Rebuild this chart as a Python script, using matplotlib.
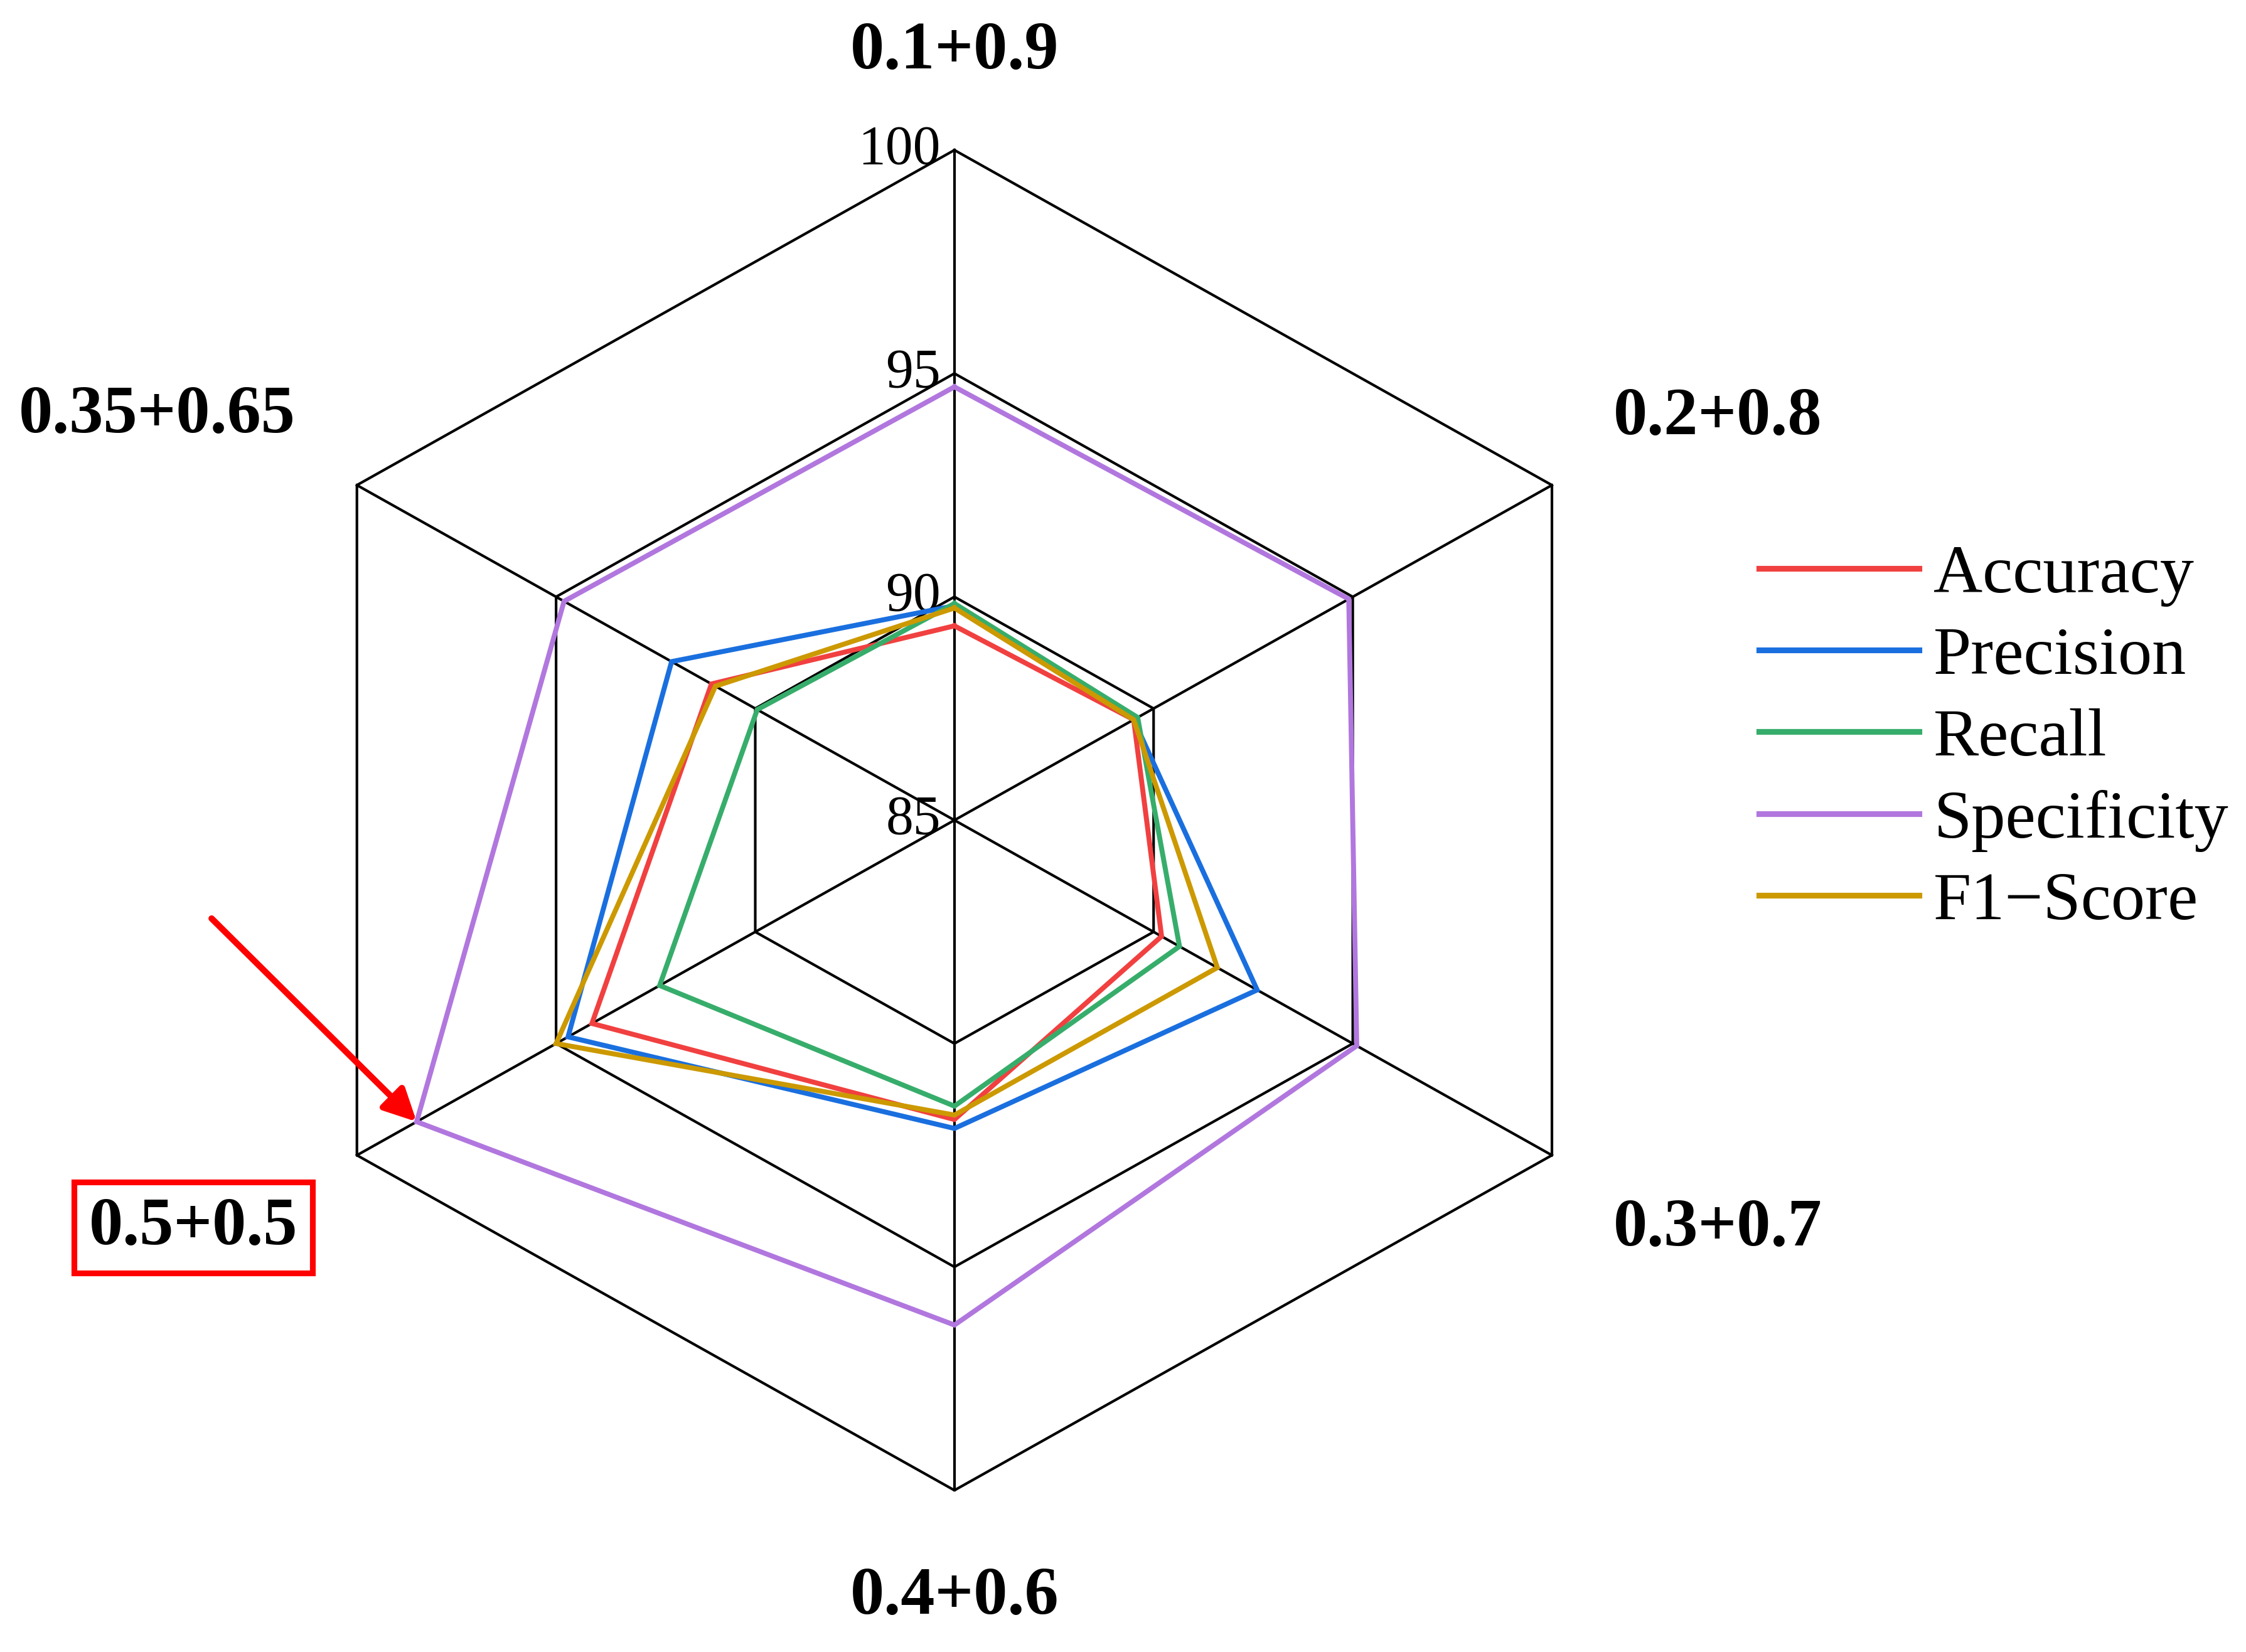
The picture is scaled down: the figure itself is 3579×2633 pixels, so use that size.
import numpy as np
import matplotlib.pyplot as plt
from matplotlib.lines import Line2D

# weight combos on the six spokes, clockwise from the top
categories = ["0.1+0.9", "0.2+0.8", "0.3+0.7", "0.4+0.6", "0.5+0.5", "0.35+0.65"]

accuracy = [89.35, 89.5, 90.2, 91.7, 94.1, 91.1]
precision = [89.8, 89.5, 92.6, 91.9, 94.7, 92.1]
recall = [89.85, 89.6, 90.65, 91.4, 92.4, 89.95]
specificity = [94.7, 94.9, 95.1, 96.3, 98.5, 94.8]
f1_score = [89.75, 89.5, 91.6, 91.6, 95.0, 91.0]

series_names = ["Accuracy", "Precision", "Recall", "Specificity", "F1\u2212Score"]
ring_ticks = [85, 90, 95, 100]
highlight = "0.5+0.5"

COLORS = ["#F14040", "#1A6FDF", "#37AD6B", "#B177DE", "#CC9900"]
R_MIN = ring_ticks[0]
SERIF = "Liberation Serif"

# label anchor points (x, y) in the radar's own units
LABEL_POS = [(0.0, 17.2), (16.6, 9.0), (16.6, -9.15), (0.0, -17.4), (-16.55, -9.12), (-17.33, 9.05)]

angles = np.arange(len(categories)) * 2 * np.pi / len(categories)


def project(values):
    r = np.asarray(values, dtype=float) - R_MIN
    return r * np.sin(angles), r * np.cos(angles)


def closed(x, y):
    return np.append(x, x[0]), np.append(y, y[0])


fig = plt.figure(figsize=(3579 / 300, 2633 / 300), dpi=300)
ax = fig.add_axes([0, 0, 1, 1])
ax.set_xlim(-20.75, 28.08)
ax.set_ylim(-18.62, 18.36)
ax.axis("off")

# hexagonal grid
for tick in ring_ticks[1:]:
    gx, gy = closed(*project([tick] * len(categories)))
    ax.plot(gx, gy, color="black", lw=1.0, zorder=2)
ox, oy = project([ring_ticks[-1]] * len(categories))
for x_end, y_end in zip(ox, oy):
    ax.plot([0, x_end], [0, y_end], color="black", lw=1.0, zorder=2)

for tick in ring_ticks:
    ax.text(-0.3, tick - R_MIN, str(tick), ha="right", va="center",
            fontsize=21, family=SERIF, zorder=1)

series = [accuracy, precision, recall, specificity, f1_score]
for values, color in zip(series, COLORS):
    sx, sy = closed(*project(values))
    ax.plot(sx, sy, color=color, lw=1.9, zorder=3, solid_joinstyle="miter")

for name, (lx, ly) in zip(categories, LABEL_POS):
    kw = {}
    if name == highlight:
        kw["bbox"] = dict(boxstyle="square,pad=0.22", facecolor="none", edgecolor="red", lw=2.2)
    ax.text(lx, ly, name, ha="center", va="center", fontsize=26,
            fontweight="bold", family=SERIF, **kw)

# red arrow onto the specificity vertex of the highlighted combo
hi = categories.index(highlight)
px, py = project(specificity)
ax.annotate("", xy=(px[hi], py[hi]), xytext=(-16.15, -2.2),
            arrowprops=dict(arrowstyle="-|>", color="red", lw=2.4,
                            mutation_scale=26, shrinkA=0, shrinkB=0), zorder=4)

handles = [Line2D([], [], color=c, lw=2.2) for c in COLORS]
ax.legend(handles, series_names, loc="center left",
          bbox_to_anchor=(2803 / 3579, 1 - 1178 / 2633), bbox_transform=fig.transFigure,
          frameon=False, prop={"family": SERIF, "size": 26},
          handlelength=2.35, handletextpad=0.22, labelspacing=0.29,
          borderpad=0, borderaxespad=0)

fig.savefig("out.png", dpi=300, facecolor="white")
plt.close(fig)
